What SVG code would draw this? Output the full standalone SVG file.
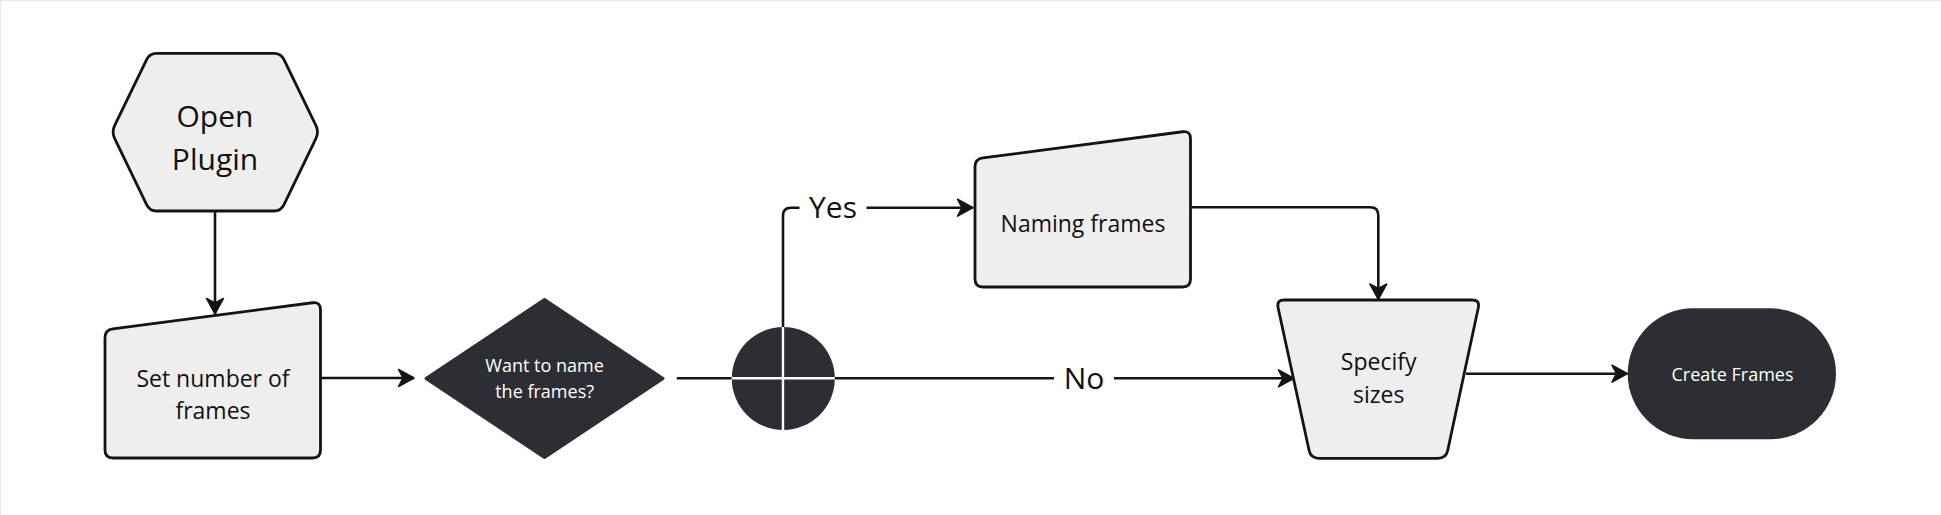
<svg xmlns="http://www.w3.org/2000/svg" width="1941" height="515" viewBox="0 0 1941 515">
  <style>
    .light { fill: #eeeeee; stroke: #141414; stroke-width: 2.8; stroke-linejoin: round; }
    .dark { fill: #2d2e33; }
    .lbl { font-family: "Open Sans", "Liberation Sans", sans-serif; fill: #111111; text-anchor: middle; }
    .wlbl { font-family: "Open Sans", "Liberation Sans", sans-serif; fill: #ffffff; text-anchor: middle; }
    .conn { fill: none; stroke: #141414; stroke-width: 2.6; stroke-linejoin: round; }
    .cross { stroke: #ffffff; stroke-width: 2.4; }
  </style>
  <defs>
    <marker id="arrow" viewBox="0 0 18 20" refX="17" refY="10" markerWidth="18" markerHeight="20" markerUnits="userSpaceOnUse" orient="auto">
      <path d="M1.5,1.5 L17,10 L1.5,18.5 L6,10 Z" fill="#141414" stroke="#141414" stroke-width="1.5" stroke-linejoin="round"/>
    </marker>
    <path id="manual" d="M0,36.3 Q0,28.3 7.93,27.26 L207.57,1.04 Q215.5,0 215.5,8 L215.5,148.3 Q215.5,156.3 207.5,156.3 L8,156.3 Q0,156.3 0,148.3 Z"/>
  </defs>
  <rect x="0" y="0" width="1941" height="515" fill="#ffffff"/>
  <path d="M0.5,515 V0.5 H1941" fill="none" stroke="#e8e8e8" stroke-width="1"/>

  <g id="connectors">
    <path class="conn" d="M215,211 V314" marker-end="url(#arrow)"/>
    <path class="conn" d="M320.5,378 H414" marker-end="url(#arrow)"/>
    <path class="conn" d="M676.8,378.3 H731.7"/>
    <path class="conn" d="M783,327.7 V215.7 Q783,207.7 791,207.7 H799.5"/>
    <path class="conn" d="M866.5,207.7 H973" marker-end="url(#arrow)"/>
    <text class="lbl" x="833" y="218" font-size="30">Yes</text>
    <path class="conn" d="M834,378.3 H1054"/>
    <path class="conn" d="M1114,378.3 H1294" marker-end="url(#arrow)"/>
    <text class="lbl" x="1084" y="389" font-size="30">No</text>
    <path class="conn" d="M1190.7,207.3 H1370.3 Q1378.3,207.3 1378.3,215.3 V299.5" marker-end="url(#arrow)"/>
    <path class="conn" d="M1466,373.7 H1627.5" marker-end="url(#arrow)"/>
  </g>

  <g id="open-plugin">
    <path class="light" d="M156.6,53.3 L274,53.3 Q281,53.3 284,59.6 L316,125.7 Q319,132 316,138.3 L284,204.7 Q281,211 274,211 L156.6,211 Q149.6,211 146.6,204.7 L114.6,138.3 Q111.6,132 114.6,125.7 L146.6,59.6 Q149.6,53.3 156.6,53.3 Z"/>
    <text class="lbl" x="215" y="126.5" font-size="30">Open</text>
    <text class="lbl" x="215" y="169.5" font-size="30">Plugin</text>
  </g>

  <g id="set-number">
    <use href="#manual" class="light" transform="translate(105,301.7)"/>
    <text class="lbl" x="213" y="386.5" font-size="23">Set number of</text>
    <text class="lbl" x="213" y="418.5" font-size="23">frames</text>
  </g>

  <g id="want-to-name">
    <polygon class="dark" points="426,378.5 544.5,299.5 663,378.5 544.5,457.5" stroke="#2d2e33" stroke-width="3" stroke-linejoin="round"/>
    <text class="wlbl" x="544.6" y="371.7" font-size="18">Want to name</text>
    <text class="wlbl" x="544.6" y="398" font-size="18">the frames?</text>
  </g>

  <g id="junction">
    <circle class="dark" cx="783.3" cy="378.5" r="51.5"/>
    <line class="cross" x1="783" y1="327" x2="783" y2="430"/>
    <line class="cross" x1="731.8" y1="378.3" x2="834.8" y2="378.3"/>
  </g>

  <g id="naming-frames">
    <use href="#manual" class="light" transform="translate(975,130.7)"/>
    <text class="lbl" x="1083" y="231.7" font-size="23">Naming frames</text>
  </g>

  <g id="specify-sizes">
    <path class="light" d="M1284.4,300 L1472,300 Q1480,300 1478.3,307.8 L1447.7,450.5 Q1446,458.3 1438,458.3 L1318.8,458.3 Q1310.8,458.3 1309.1,450.5 L1278.1,307.8 Q1276.4,300 1284.4,300 Z"/>
    <text class="lbl" x="1378.7" y="370" font-size="23">Specify</text>
    <text class="lbl" x="1378.7" y="402.5" font-size="23">sizes</text>
  </g>

  <g id="create-frames">
    <rect class="dark" x="1627.7" y="308.3" width="208.3" height="131" rx="65.5" ry="65.5"/>
    <text class="wlbl" x="1732.5" y="380.5" font-size="18">Create Frames</text>
  </g>
</svg>
